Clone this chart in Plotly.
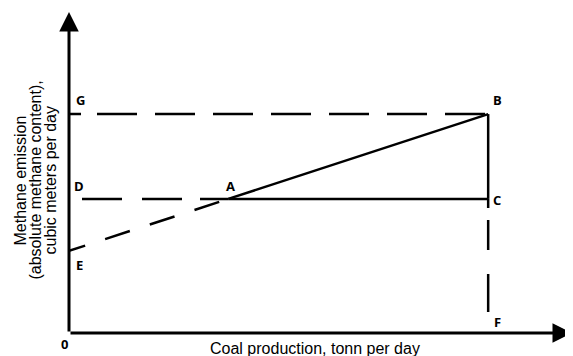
import plotly.graph_objects as go

# Schematic values (arbitrary units)
x_axis_max = 12.0
y_axis_max = 11.73
x_A = 3.8
x_B = 10.0
y_E = 3.0
y_D = 4.9
y_G = 8.0

point_names = ["G", "B", "D", "A", "C", "E", "F", "0"]
point_x = [0, x_B, 0, x_A, x_B, 0, x_B, 0]
point_y = [y_G, y_G, y_D, y_D, y_D, y_E, 0, 0]
label_dx = [11, 9, 10, 2, 9, 10, 9, -5]
label_dy = [14, 14, 13, 13, -1, -14, 11, -11]

x_title = "Coal production, tonn per day"
y_title_lines = ["Methane emission", "(absolute methane content),", "cubic meters per day"]

def dash(*lens):
    return ",".join("%dpx" % v for v in lens)

DASH_GB = dash(12, 16, *([40, 18] * 7), 60)
DASH_DA = dash(0, 13, 40, 20, 40, 18, 60)
DASH_EA = dash(17, 21, *([26, 21] * 3), 40)
DASH_CF = dash(9, 12, 30, 24, 38, 20, 20)
LW = 2.5
BLACK = "#000000"

fig = go.Figure()

def seg(xs, ys, d="solid"):
    fig.add_trace(go.Scatter(x=xs, y=ys, mode="lines",
                             line=dict(color=BLACK, width=LW, dash=d),
                             hoverinfo="skip", showlegend=False))

# G-B dashed
seg([0, x_B], [y_G, y_G], DASH_GB)
# D-A dashed
seg([0, x_A], [y_D, y_D], DASH_DA)
# E-A dashed
seg([0, x_A], [y_E, y_D], DASH_EA)
# A-B solid, A-C solid, B-C solid
seg([x_A, x_B], [y_D, y_G])
seg([x_A, x_B], [y_D, y_D])
seg([x_B, x_B], [y_G, y_D])
# C-F dashed
seg([x_B, x_B], [y_D, 0], DASH_CF)

annotations = []
# axes arrows
annotations.append(dict(x=x_axis_max, y=0, ax=0, ay=0, xref="x", yref="y",
                        axref="x", ayref="y", showarrow=True, arrowhead=2,
                        arrowsize=1.3, arrowwidth=3, arrowcolor=BLACK, text=""))
annotations.append(dict(x=0, y=y_axis_max, ax=0, ay=0, xref="x", yref="y",
                        axref="x", ayref="y", showarrow=True, arrowhead=2,
                        arrowsize=1.3, arrowwidth=3, arrowcolor=BLACK, text=""))

for n, px, py, dx, dy in zip(point_names, point_x, point_y, label_dx, label_dy):
    annotations.append(dict(x=px, y=py, xref="x", yref="y", text="<b>%s</b>" % n,
                            showarrow=False, xshift=dx, yshift=dy,
                            font=dict(family="Open Sans", size=13, color=BLACK)))

TITLE_FONT = dict(family="Liberation Sans, Arial", size=16, color=BLACK)
annotations.append(dict(x=0.489, y=0, xref="paper", yref="paper", yanchor="middle",
                        xanchor="center", text=x_title, showarrow=False,
                        yshift=-15, font=TITLE_FONT))
for i, line in enumerate(y_title_lines):
    annotations.append(dict(x=0, y=0.5, xref="paper", yref="paper", text=line,
                            showarrow=False, textangle=-90, xanchor="center",
                            yanchor="middle", xshift=-49 + 15 * i, yshift=-8,
                            font=TITLE_FONT))

# page body has an 8px margin, so the figure is sized to fit the window
fig.update_layout(
    width=565, height=348,
    margin=dict(l=61, r=1, t=4, b=23),
    plot_bgcolor="white", paper_bgcolor="white",
    xaxis=dict(range=[0, x_axis_max], visible=False, fixedrange=True),
    yaxis=dict(range=[0, y_axis_max], visible=False, fixedrange=True),
    annotations=annotations,
)

fig.write_html("out.html")
